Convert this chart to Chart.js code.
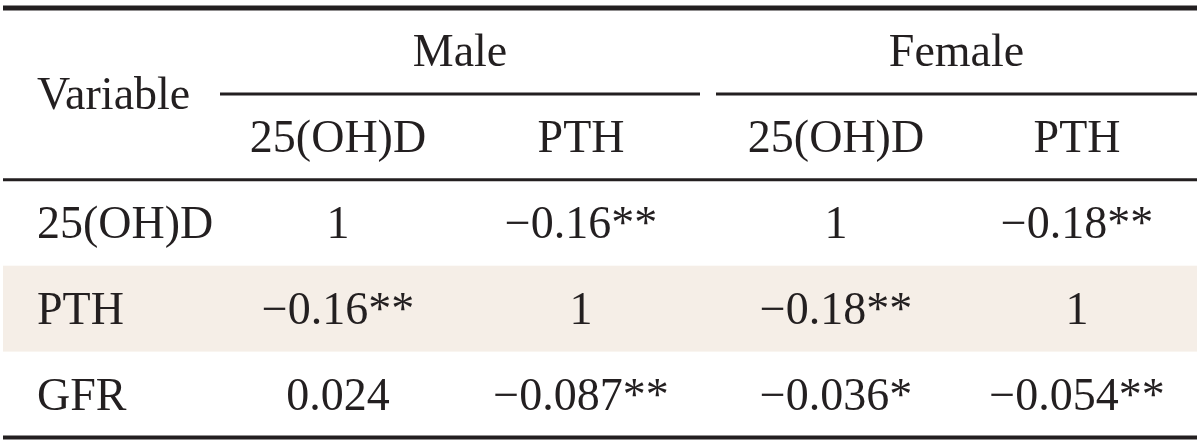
<!DOCTYPE html>
<html lang="en">
<head>
<meta charset="UTF-8">
<title>Correlation table</title>
<script src="https://cdn.jsdelivr.net/npm/chart.js"></script>
<style>
  body { margin: 0; background: #fff; }
  #wrap { width: 1200px; height: 445px; position: relative; }
</style>
</head>
<body>
<div id="wrap"><canvas id="table"></canvas></div>
<script>
// table content
const groups = ['Male', 'Female'];
const subColumns = ['25(OH)D', 'PTH'];
const variables = ['25(OH)D', 'PTH', 'GFR'];
const cornerLabel = 'Variable';

const maleOHD = [1, -0.16, 0.024];
const maleOHDSig = ['', '**', ''];
const malePTH = [-0.16, 1, -0.087];
const malePTHSig = ['**', '', '**'];
const femaleOHD = [1, -0.18, -0.036];
const femaleOHDSig = ['', '**', '*'];
const femalePTH = [-0.18, 1, -0.054];
const femalePTHSig = ['**', '', '**'];

const shadedRows = [1]; // body rows with the beige band

// layout (x in page pixels, y in table rows)
const labelX = 37;
const colX = [338, 581, 836, 1077];
const groupSpan = [[220, 700], [716, 1197]];
const tableLeft = 3, tableRight = 1197;
const bodyTop = 2;
const ink = '#231f20';
const band = '#f5eee7';
const font = '46px "Liberation Serif", "Times New Roman", serif';

function fmt(v, sig) {
    return String(v).replace('-', '\u2212') + sig;
}

const valueCols = [
    [maleOHD, maleOHDSig],
    [malePTH, malePTHSig],
    [femaleOHD, femaleOHDSig],
    [femalePTH, femalePTHSig]
];

// every text cell becomes a point on the scales
const cells = [];
cells.push({ x: labelX, y: 1, text: cornerLabel, align: 'left' });
groups.forEach((g, gi) => {
    cells.push({ x: (groupSpan[gi][0] + groupSpan[gi][1]) / 2, y: 0.5, text: g });
    subColumns.forEach((s, si) => {
        cells.push({ x: colX[gi * 2 + si], y: 1.5, text: s });
    });
});
variables.forEach((v, r) => {
    cells.push({ x: labelX, y: bodyTop + r + 0.5, text: v, align: 'left' });
    valueCols.forEach(([vals, sig], c) => {
        cells.push({ x: colX[c], y: bodyTop + r + 0.5, text: fmt(vals[r], sig[r]) });
    });
});

const tablePlugin = {
    id: 'tablePlugin',
    beforeDatasetsDraw(chart) {
        const { ctx, scales: { x, y } } = chart;
        ctx.save();
        ctx.fillStyle = band;
        shadedRows.forEach(r => {
            const top = y.getPixelForValue(bodyTop + r);
            const bottom = y.getPixelForValue(bodyTop + r + 1);
            const left = x.getPixelForValue(tableLeft);
            ctx.fillRect(left, top, x.getPixelForValue(tableRight) - left, bottom - top);
        });
        ctx.restore();
    },
    afterDatasetsDraw(chart) {
        const { ctx, scales: { x, y } } = chart;
        ctx.save();
        ctx.strokeStyle = ink;
        const rule = (x0, x1, yv, w) => {
            ctx.lineWidth = w;
            ctx.beginPath();
            ctx.moveTo(x.getPixelForValue(x0), y.getPixelForValue(yv));
            ctx.lineTo(x.getPixelForValue(x1), y.getPixelForValue(yv));
            ctx.stroke();
        };
        rule(tableLeft, tableRight, 0, 5);
        groupSpan.forEach(([a, b]) => rule(a, b, 1, 3));
        rule(tableLeft, tableRight, bodyTop, 3);
        rule(tableLeft, tableRight, bodyTop + variables.length, 4);

        ctx.fillStyle = ink;
        ctx.font = font;
        ctx.textBaseline = 'middle';
        const meta = chart.getDatasetMeta(0);
        meta.data.forEach((pt, i) => {
            ctx.textAlign = cells[i].align || 'center';
            ctx.fillText(cells[i].text, pt.x, pt.y + 3);
        });
        ctx.restore();
    }
};

new Chart(document.getElementById('table'), {
    type: 'scatter',
    data: {
        datasets: [{
            data: cells,
            pointRadius: 0,
            pointHoverRadius: 0
        }]
    },
    options: {
        responsive: true,
        maintainAspectRatio: false,
        animation: false,
        layout: { padding: { top: 8, bottom: 7.5, left: 0, right: 0 } },
        plugins: {
            legend: { display: false },
            tooltip: { enabled: false }
        },
        events: [],
        scales: {
            x: { type: 'linear', min: 0, max: 1200, display: false },
            y: { type: 'linear', min: 0, max: 5, reverse: true, display: false }
        }
    },
    plugins: [tablePlugin]
});
</script>
</body>
</html>
